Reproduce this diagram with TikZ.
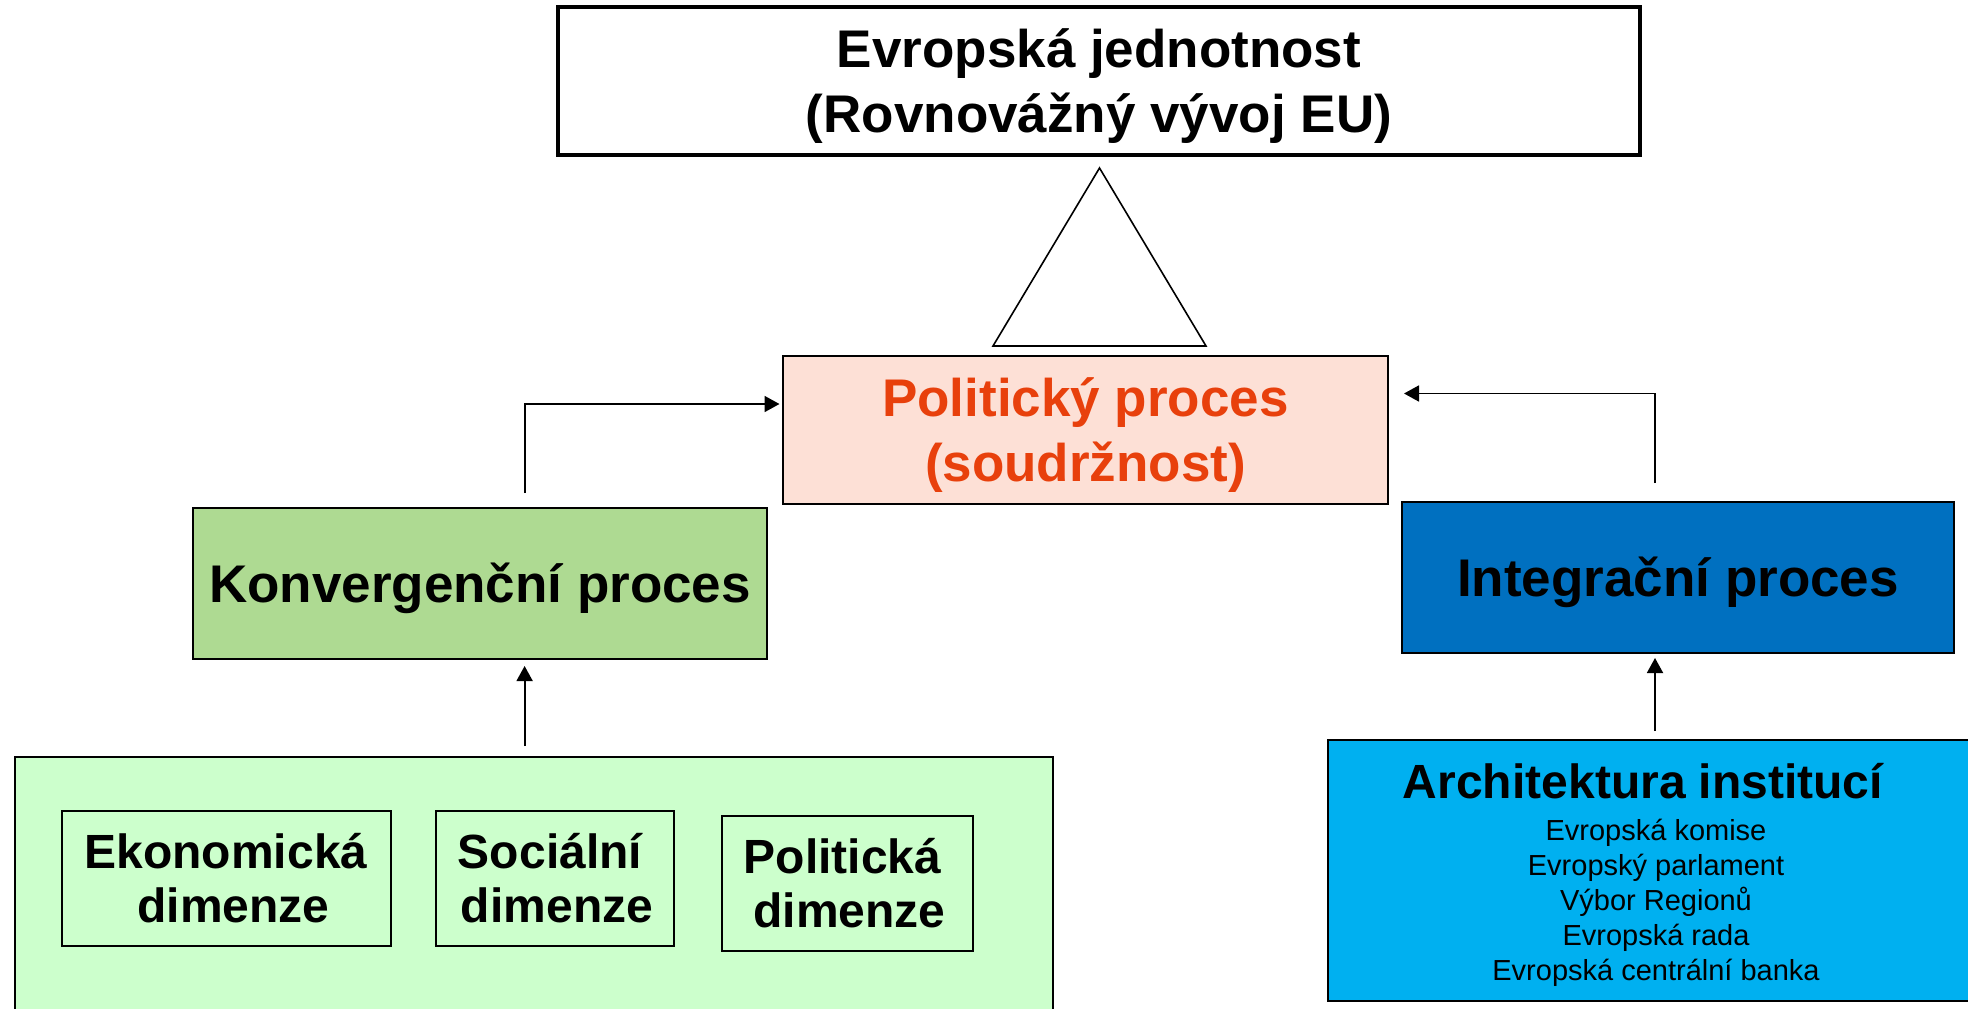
\documentclass[tikz,border=0pt]{standalone}
\usepackage{fontspec}
\setmainfont{Liberation Sans}
\usetikzlibrary{arrows.meta}
\definecolor{pinkfill}{RGB}{253,224,214}
\definecolor{orangetxt}{RGB}{232,64,12}
\definecolor{konvfill}{RGB}{174,218,146}
\definecolor{integfill}{RGB}{0,112,192}
\definecolor{archfill}{RGB}{0,176,240}
\definecolor{dimfill}{RGB}{204,255,204}
\begin{document}
\begin{tikzpicture}[x=1pt,y=-1pt,
 box/.style={draw, line width=2pt, inner sep=0pt},
 bigtxt/.style={align=center, font=\fontsize{53}{65}\selectfont\bfseries},
 dimtxt/.style={align=center, font=\fontsize{48}{54}\selectfont\bfseries},
 arr/.style={line width=1.8pt, -{Triangle[length=15pt,width=16pt]}},
]
\useasboundingbox (0,0) rectangle (1968,1009);
\clip (0,0) rectangle (1968,1009);

% top box
\node[box, line width=3.5pt, minimum width=1082pt, minimum height=148pt] (top) at (1099,81) {};
\node[bigtxt] (topt) at ([yshift=-5pt]top.center) {Evropská jednotnost\\(Rovnovážný vývoj EU)};

% triangle
\draw[line width=1.6pt, fill=white] (1099.5,168) -- (993,346) -- (1206,346) -- cycle;

% political process
\node[box, fill=pinkfill, minimum width=605pt, minimum height=148pt] (pol) at (1085.5,430) {};
\node[bigtxt, text=orangetxt] (polt) at ([yshift=-5pt]pol.center) {Politický proces\\(soudržnost)};

% convergence
\node[box, fill=konvfill, minimum width=574pt, minimum height=151pt] (konv) at (480,583.5) {};
\node[bigtxt] (konvt) at ([yshift=-5pt]konv.center) {Konvergenční proces};

% integration
\node[box, fill=integfill, minimum width=552pt, minimum height=151pt] (integ) at (1678,577.5) {};
\node[bigtxt] (integt) at ([yshift=-5pt]integ.center) {Integrační proces};

% dimensions container
\node[box, fill=dimfill, minimum width=1038pt, minimum height=290pt, anchor=north west] (dims) at (14,756) {};
\node[box, minimum width=329pt, minimum height=135pt] (eko) at (226,878.5) {};
\node[dimtxt] (ekot) at (eko.center) {Ekonomická\\\hspace*{15pt}dimenze};
\node[box, minimum width=238.5pt, minimum height=135pt] (soc) at (555,878.5) {};
\node[dimtxt] (soct) at ([xshift=-5pt]soc.center) {Sociální\\\hspace*{14pt}dimenze};
\node[box, minimum width=251pt, minimum height=135pt] (pold) at (847.5,883.5) {};
\node[dimtxt] (poldt) at ([xshift=-5pt]pold.center) {Politická\\\hspace*{14pt}dimenze};

% institutions
\node[box, fill=archfill, minimum width=670pt, minimum height=261pt, anchor=north west] (arch) at (1327,739) {};
\node[dimtxt, anchor=base] (archt) at (1643,798) {Architektura institucí};
\node[align=center, font=\fontsize{29}{35}\selectfont, anchor=center] (archl) at (1656,903)
  {Evropská komise\\Evropský parlament\\Výbor Regionů\\Evropská rada\\Evropská centrální banka};

% connectors
\coordinate (a1s) at (524.6,493);
\coordinate (a1e) at (779.5,404);
\draw[arr] (a1s) |- (a1e);

\coordinate (a2s) at (1655,483);
\coordinate (a2e) at (1404,393.5);
\draw[arr] (a2s) |- (a2e);

\draw[arr] ([yshift=10pt]dims.north -| a1s) -- ([yshift=-6pt]konv.south -| a1s);
\draw[arr] ([yshift=8pt]arch.north -| a2s) -- ([yshift=-4pt]integ.south -| a2s);
\end{tikzpicture}
\end{document}
